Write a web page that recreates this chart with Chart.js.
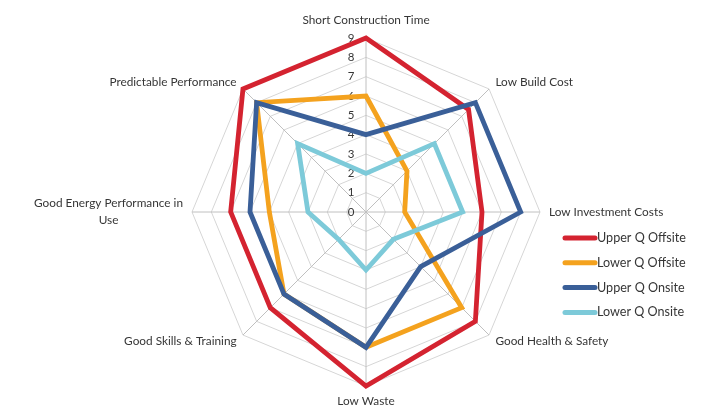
<!DOCTYPE html>
<html><head><meta charset="utf-8">
<script src="https://cdn.jsdelivr.net/npm/chart.js@4/dist/chart.umd.min.js"></script>
<style>html,body{margin:0;padding:0;background:#fff}#wrap{width:723px;height:414px;position:relative}</style>
</head><body><div id="wrap"><canvas id="c" width="723" height="414"></canvas></div>
<script>
const categories = [["Short Construction Time"],["Low Build Cost"],["Low Investment Costs"],["Good Health & Safety"],["Low Waste"],["Good Skills & Training"],["Good Energy Performance in","Use"],["Predictable Performance"]];
const seriesNames = ["Upper Q Offsite","Lower Q Offsite","Upper Q Onsite","Lower Q Onsite"];
const upperQOffsite = [9, 7.5, 6, 8, 9, 7, 7, 9];
const lowerQOffsite = [6, 3, 2, 7, 7, 6, 5, 8];
const upperQOnsite  = [4, 8, 8, 4, 7, 6, 6, 8];
const lowerQOnsite  = [2, 5, 5, 2, 3, 2, 3, 5];
const tickValues = [0,1,2,3,4,5,6,7,8,9];
const seriesColors = ["#D42330","#F4A21E","#3A5F98","#7DCAD9"];

const FONT = "Lato, 'Open Sans', sans-serif";
const TEXT = "#363636";

const overlay = {
  id: 'overlay',
  beforeDatasetsDraw(chart) {
    const s = chart.scales.r, ctx = chart.ctx;
    ctx.save();
    ctx.font = "11.5px " + FONT;
    ctx.fillStyle = TEXT;
    ctx.textAlign = "center";
    ctx.textBaseline = "middle";
    tickValues.forEach(v => {
      const d = s.getDistanceFromCenterForValue(v);
      ctx.fillText(String(v), s.xCenter - 15, s.yCenter - d);
    });
    ctx.restore();
  },
  afterDraw(chart) {
    const s = chart.scales.r, ctx = chart.ctx;
    ctx.save();
    ctx.font = "11.8px " + FONT;
    ctx.fillStyle = TEXT;
    const labels = chart.data.labels;
    labels.forEach((lab, i) => {
      const lines = Array.isArray(lab) ? lab : [lab];
      const a = s.getIndexAngle(i) - Math.PI / 2;
      const c = Math.cos(a), sn = Math.sin(a);
      let d = 9;
      if (sn < -0.99) d = 12;
      const p = s.getPointPosition(i, s.drawingArea + d);
      const lh = 17;
      let align, base;
      if (Math.abs(c) < 0.01) { align = "center"; base = sn < 0 ? "bottom" : "top"; }
      else { align = c > 0 ? "left" : "right"; base = "middle"; }
      ctx.textBaseline = base;
      if (lines.length > 1) {
        const w = Math.max(...lines.map(t => ctx.measureText(t).width));
        const cx = align === "right" ? p.x - w / 2 : (align === "left" ? p.x + w / 2 : p.x);
        ctx.textAlign = "center";
        lines.forEach((t, k) => {
          ctx.fillText(t, cx, p.y + (k - (lines.length - 1) / 2) * lh);
        });
      } else {
        ctx.textAlign = align;
        ctx.fillText(lines[0], p.x, p.y);
      }
    });
    // legend
    ctx.font = "12.6px " + FONT;
    const lx = 565, ly0 = 238, step = 24.8;
    chart.data.datasets.forEach((ds, k) => {
      const y = ly0 + k * step;
      ctx.strokeStyle = ds.borderColor;
      ctx.lineWidth = 5;
      ctx.lineCap = "round";
      ctx.beginPath(); ctx.moveTo(lx, y); ctx.lineTo(lx + 30, y); ctx.stroke();
      ctx.fillStyle = TEXT;
      ctx.textAlign = "left"; ctx.textBaseline = "middle";
      ctx.fillText(ds.label, lx + 32, y);
    });
    ctx.restore();
  }
};

const seriesData = [upperQOffsite, lowerQOffsite, upperQOnsite, lowerQOnsite];
new Chart(document.getElementById('c'), {
  type: 'radar',
  data: {
    labels: categories,
    datasets: seriesNames.map((n, k) => ({
      label: n,
      data: seriesData[k],
      borderColor: seriesColors[k],
      backgroundColor: 'transparent',
      borderWidth: 4.8,
      borderJoinStyle: 'miter',
      pointRadius: 0,
      fill: false,
      order: 3 - k
    }))
  },
  options: {
    responsive: false,
    animation: false,
    layout: { padding: { left: 192, right: 183, top: 38, bottom: 28 } },
    plugins: { legend: { display: false }, tooltip: { enabled: false } },
    scales: {
      r: {
        min: 0, max: 9,
        ticks: { display: false, stepSize: 1 },
        pointLabels: { display: false },
        grid: { color: '#D6D6D6', lineWidth: 1 },
        angleLines: { color: '#C0C0C0', lineWidth: 1 }
      }
    }
  },
  plugins: [overlay]
});
</script></body></html>
